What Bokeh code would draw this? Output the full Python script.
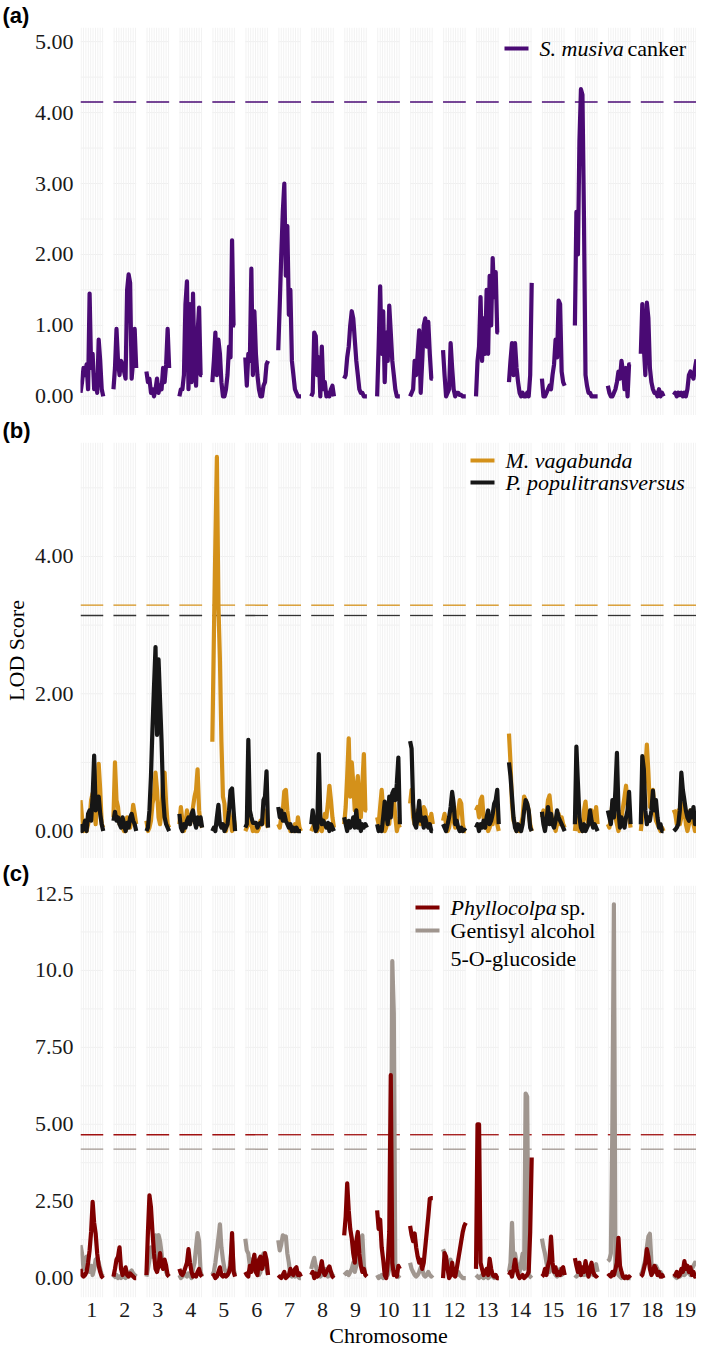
import numpy as np
from bokeh.plotting import figure
from bokeh.layouts import column
from bokeh.models import FixedTicker, Label, BoxAnnotation, PrintfTickFormatter
from bokeh.embed import file_html
from bokeh.resources import INLINE

chromosomes = list(range(1, 20))

# LOD profiles, one list per chromosome
musiva_canker = [
    [0.05, 0.2, 0.4, 0.3, 0.45, 0.1, 1.45, 0.4, 0.6, 0.1, 0.3, 0.05, 0.8, 0.5, 0.1, 0.0],
    [0.1, 0.4, 0.95, 0.5, 0.3, 0.5, 0.45, 0.35, 0.25, 1.5, 1.72, 1.6, 0.25, 0.5, 0.95, 0.4],
    [0.35, 0.2, 0.25, 0.05, 0.1, 0.0, 0.1, 0.25, 0.05, 0.15, 0.1, 0.4, 0.2, 0.45, 0.95, 0.4],
    [0.0, 0.1, 0.1, 0.3, 1.3, 1.62, 0.1, 1.3, 0.2, 1.45, 0.4, 0.15, 0.9, 1.25, 0.3, 0.3],
    [0.2, 0.5, 0.9, 0.3, 0.8, 0.6, 0.2, 0.0, 0.0, 0.1, 0.3, 0.7, 0.55, 2.2, 1.0, 1.0],
    [0.55, 0.15, 0.6, 0.5, 1.8, 0.3, 1.2, 0.6, 0.3, 0.1, 0.0, 0.0, 0.15, 0.2, 0.45, 0.5],
    [0.65, 1.3, 2.0, 2.6, 3.0, 1.7, 2.4, 1.15, 1.5, 0.5, 0.3, 0.1, 0.05, 0.0, 0.0, 0.0],
    [0.0, 0.05, 0.9, 0.85, 0.3, 0.55, 0.0, 0.7, 0.1, 0.2, 0.0, 0.05, 0.0, 0.1, 0.15, 0.0],
    [0.25, 0.3, 0.55, 0.7, 1.0, 1.2, 1.1, 0.8, 0.5, 0.3, 0.1, 0.05, 0.05, 0.0, 0.0, 0.0],
    [0.0, 0.7, 1.55, 0.6, 1.2, 0.2, 0.9, 0.5, 1.28, 0.9, 0.5, 0.3, 0.1, 0.0, 0.0, 0.0],
    [0.0, 0.05, 0.1, 0.5, 0.3, 0.6, 0.93, 0.05, 0.5, 1.0, 1.1, 0.7, 1.05, 0.6, 0.25, 0.25],
    [0.65, 0.3, 0.0, 0.05, 0.1, 0.75, 0.4, 0.1, 0.0, 0.05, 0.05, 0.02, 0.02, 0.0, 0.0, 0.0],
    [0.0, 0.5, 0.7, 1.4, 0.5, 1.1, 0.6, 1.5, 0.6, 1.7, 1.0, 1.95, 1.4, 1.75, 0.9, 0.9],
    [0.2, 0.5, 0.75, 0.3, 0.75, 0.4, 0.2, 0.05, 0.0, 0.05, 0.0, 0.0, 0.05, 0.0, 0.3, 1.6],
    [0.25, 0.0, 0.0, 0.05, 0.1, 0.15, 0.1, 0.3, 0.45, 0.8, 0.55, 1.35, 1.3, 0.35, 0.2, 0.15],
    [1.0, 2.6, 2.0, 3.6, 4.33, 4.25, 2.5, 0.3, 0.15, 0.05, 0.05, 0.0, 0.0, 0.0, 0.0, 0.0],
    [0.15, 0.05, 0.0, 0.0, 0.05, 0.1, 0.2, 0.35, 0.25, 0.5, 0.35, 0.1, 0.4, 0.0, 0.45, 0.45],
    [0.6, 1.3, 0.7, 0.3, 1.32, 1.1, 0.4, 0.2, 0.1, 0.05, 0.05, 0.0, 0.1, 0.0, 0.05, 0.0],
    [0.02, 0.05, 0.0, 0.05, 0.02, 0.05, 0.0, 0.05, 0.0, 0.1, 0.3, 0.35, 0.3, 0.25, 0.4, 0.52],
]

m_vagabunda = [
    [0.45, 0.2, 0.0, 0.05, 0.0, 0.1, 0.2, 0.45, 0.55, 0.3, 0.1, 0.5, 0.98, 0.6, 0.1, 0.05],
    [0.2, 1.0, 0.45, 0.35, 0.1, 0.15, 0.05, 0.0, 0.0, 0.2, 0.1, 0.05, 0.15, 0.38, 0.25, 0.1],
    [0.15, 0.0, 0.05, 0.15, 0.4, 0.5, 0.85, 0.6, 0.2, 0.1, 0.3, 0.8, 0.85, 0.4, 0.1, 0.05],
    [0.1, 0.35, 0.15, 0.0, 0.1, 0.3, 0.15, 0.1, 0.2, 0.35, 0.5, 0.6, 0.9, 0.3, 0.1, 0.05],
    [1.3, 2.8, 4.2, 5.45, 3.3, 2.5, 1.3, 0.5, 0.4, 0.0, 0.15, 0.3, 0.15, 0.0, 0.2, 0.05],
    [0.0, 0.05, 0.1, 0.2, 0.1, 0.0, 0.05, 0.0, 0.0, 0.05, 0.15, 0.1, 0.2, 0.3, 0.1, 0.05],
    [0.1, 0.05, 0.2, 0.3, 0.58, 0.6, 0.3, 0.1, 0.0, 0.05, 0.0, 0.1, 0.0, 0.2, 0.05, 0.0],
    [0.0, 0.05, 0.1, 0.05, 0.0, 0.1, 0.05, 0.0, 0.1, 0.25, 0.2, 0.4, 0.66, 0.45, 0.2, 0.05],
    [0.1, 0.35, 0.8, 1.35, 0.5, 1.0, 0.7, 0.3, 0.55, 0.8, 0.3, 0.2, 0.7, 1.12, 0.3, 0.3],
    [0.2, 0.1, 0.35, 0.6, 0.3, 0.0, 0.05, 0.3, 0.1, 0.4, 0.3, 0.5, 0.2, 0.0, 0.1, 0.05],
    [0.4, 0.6, 0.2, 0.1, 0.15, 0.3, 0.2, 0.1, 0.25, 0.35, 0.3, 0.15, 0.2, 0.1, 0.25, 0.1],
    [0.15, 0.25, 0.1, 0.0, 0.05, 0.2, 0.3, 0.15, 0.05, 0.1, 0.3, 0.45, 0.4, 0.1, 0.0, 0.0],
    [0.3, 0.35, 0.2, 0.45, 0.5, 0.2, 0.05, 0.1, 0.0, 0.05, 0.2, 0.1, 0.3, 0.35, 0.1, 0.0],
    [1.42, 1.0, 0.4, 0.15, 0.1, 0.0, 0.05, 0.0, 0.1, 0.2, 0.5, 0.45, 0.4, 0.3, 0.1, 0.0],
    [0.2, 0.3, 0.1, 0.25, 0.45, 0.52, 0.3, 0.1, 0.15, 0.0, 0.1, 0.25, 0.1, 0.2, 0.1, 0.05],
    [0.0, 0.2, 0.1, 0.0, 0.1, 0.0, 0.3, 0.43, 0.2, 0.1, 0.1, 0.3, 0.2, 0.1, 0.35, 0.1],
    [0.1, 0.05, 0.2, 0.4, 0.3, 0.2, 0.1, 0.0, 0.1, 0.2, 0.35, 0.5, 0.66, 0.4, 0.2, 0.05],
    [0.0, 0.2, 0.5, 0.9, 1.26, 0.85, 0.35, 0.5, 0.6, 0.3, 0.15, 0.1, 0.05, 0.0, 0.05, 0.0],
    [0.31, 0.25, 0.1, 0.3, 0.1, 0.2, 0.4, 0.35, 0.1, 0.0, 0.1, 0.3, 0.2, 0.1, 0.0, 0.05],
]

p_populitransversus = [
    [0.1, 0.0, 0.05, 0.15, 0.0, 0.25, 0.3, 0.15, 0.5, 1.1, 0.3, 0.45, 0.5, 0.25, 0.1, 0.0],
    [0.15, 0.28, 0.15, 0.2, 0.1, 0.05, 0.2, 0.1, 0.0, 0.12, 0.05, 0.2, 0.25, 0.15, 0.1, 0.0],
    [0.0, 0.05, 0.3, 0.8, 1.5, 2.1, 2.68, 1.4, 2.5, 1.9, 1.3, 0.5, 0.2, 0.1, 0.05, 0.0],
    [0.25, 0.05, 0.0, 0.1, 0.05, 0.15, 0.2, 0.1, 0.25, 0.3, 0.15, 0.05, 0.2, 0.1, 0.2, 0.05],
    [0.0, 0.05, 0.0, 0.2, 0.38, 0.1, 0.05, 0.1, 0.0, 0.05, 0.1, 0.3, 0.59, 0.62, 0.3, 0.0],
    [0.05, 0.1, 1.33, 0.3, 0.2, 0.12, 0.12, 0.12, 0.05, 0.1, 0.12, 0.1, 0.45, 0.5, 0.87, 0.05],
    [0.35, 0.2, 0.3, 0.15, 0.25, 0.15, 0.1, 0.05, 0.1, 0.0, 0.05, 0.0, 0.05, 0.0, 0.0, 0.0],
    [0.1, 0.3, 0.1, 0.0, 0.05, 1.12, 0.2, 0.1, 0.15, 0.1, 0.05, 0.12, 0.0, 0.1, 0.05, 0.0],
    [0.2, 0.1, 0.0, 0.15, 0.05, 0.1, 0.2, 0.05, 0.3, 0.05, 0.15, 0.0, 0.1, 0.05, 0.1, 0.05],
    [0.1, 0.0, 0.05, 0.0, 0.2, 0.43, 0.25, 0.1, 0.5, 0.2, 0.55, 0.6, 0.45, 0.69, 1.07, 0.1],
    [1.31, 1.2, 0.4, 0.1, 0.05, 0.2, 0.44, 0.15, 0.2, 0.05, 0.2, 0.1, 0.05, 0.1, 0.0, 0.0],
    [0.1, 0.05, 0.0, 0.1, 0.2, 0.35, 0.57, 0.4, 0.1, 0.15, 0.05, 0.0, 0.05, 0.0, 0.02, 0.0],
    [0.05, 0.1, 0.0, 0.1, 0.05, 0.15, 0.05, 0.2, 0.3, 0.1, 0.15, 0.25, 0.4, 0.45, 0.6, 0.1],
    [1.0, 0.8, 0.5, 0.2, 0.05, 0.0, 0.1, 0.05, 0.0, 0.1, 0.3, 0.45, 0.4, 0.3, 0.05, 0.0],
    [0.28, 0.1, 0.0, 0.15, 0.35, 0.1, 0.25, 0.1, 0.05, 0.15, 0.3, 0.2, 0.15, 0.1, 0.05, 0.0],
    [0.1, 1.23, 0.7, 0.2, 0.05, 0.0, 0.1, 0.0, 0.05, 0.1, 0.3, 0.15, 0.05, 0.1, 0.05, 0.0],
    [0.3, 0.2, 0.1, 0.45, 0.2, 0.6, 1.14, 0.3, 0.05, 0.2, 0.1, 0.05, 0.2, 0.3, 0.57, 0.1],
    [0.1, 1.09, 0.9, 0.3, 0.1, 0.2, 0.15, 0.3, 0.59, 0.3, 0.45, 0.2, 0.05, 0.1, 0.0, 0.0],
    [0.0, 0.02, 0.05, 0.1, 0.3, 0.85, 0.6, 0.45, 0.3, 0.2, 0.15, 0.3, 0.2, 0.35, 0.1, 0.15],
]

phyllocolpa = [
    [0.3, 0.1, 0.05, 0.1, 0.2, 0.5, 0.9, 1.5, 2.48, 1.8, 1.45, 0.8, 0.4, 0.2, 0.05, 0.0],
    [0.05, 0.3, 0.6, 0.7, 1.0, 0.3, 0.1, 0.2, 0.35, 0.1, 0.05, 0.15, 0.1, 0.05, 0.0, 0.0],
    [0.1, 1.5, 2.69, 2.3, 1.5, 0.8, 0.3, 0.2, 0.4, 0.81, 0.4, 0.3, 0.6, 0.4, 0.1, 0.05],
    [0.3, 0.15, 0.1, 0.2, 0.35, 0.5, 0.94, 0.5, 0.2, 0.05, 0.1, 0.05, 0.2, 0.3, 0.1, 0.05],
    [0.05, 0.1, 0.0, 0.05, 0.2, 0.35, 0.1, 0.05, 0.1, 0.05, 0.1, 0.2, 0.4, 1.46, 0.2, 0.05],
    [0.2, 0.1, 0.05, 0.4, 0.2, 0.5, 0.76, 0.2, 0.1, 0.6, 0.7, 0.3, 0.5, 0.81, 0.6, 0.1],
    [0.0, 0.05, 0.0, 0.1, 0.2, 0.0, 0.05, 0.1, 0.3, 0.15, 0.1, 0.3, 0.35, 0.1, 0.15, 0.05],
    [0.1, 0.2, 0.0, 0.15, 0.05, 0.1, 0.3, 0.55, 0.2, 0.1, 0.2, 0.3, 0.38, 0.2, 0.05, 0.0],
    [1.39, 2.0, 3.08, 2.2, 1.6, 1.3, 0.8, 0.5, 1.2, 1.5, 0.8, 0.4, 0.2, 0.3, 0.1, 0.05],
    [2.2, 1.6, 1.9, 1.0, 0.6, 0.1, 0.0, 0.5, 1.5, 6.6, 0.5, 0.1, 0.2, 0.05, 0.4, 0.3],
    [1.7, 1.4, 1.2, 1.45, 1.0, 0.7, 0.5, 0.6, 0.3, 0.5, 1.0, 1.5, 2.0, 2.58, 2.6, 2.6],
    [0.0, 0.81, 0.7, 0.3, 0.0, 0.1, 0.5, 0.1, 0.05, 0.3, 0.6, 0.9, 1.2, 1.5, 1.7, 1.8],
    [0.3, 5.0, 5.0, 0.5, 0.3, 0.1, 0.2, 0.3, 0.1, 0.63, 0.3, 0.1, 0.05, 0.1, 0.0, 0.0],
    [0.1, 0.2, 0.05, 0.3, 0.6, 0.3, 0.1, 0.0, 0.05, 0.1, 0.0, 0.05, 0.1, 0.2, 1.5, 3.92],
    [0.05, 0.1, 0.3, 0.1, 0.4, 0.6, 1.35, 0.5, 0.2, 0.35, 0.1, 0.2, 0.1, 0.3, 0.35, 0.1],
    [0.65, 0.4, 0.2, 0.5, 0.1, 0.35, 0.2, 0.55, 0.3, 0.05, 0.3, 0.5, 0.2, 0.1, 0.05, 0.1],
    [0.05, 0.1, 0.05, 0.2, 0.1, 0.3, 0.5, 1.31, 0.4, 0.2, 0.05, 0.0, 0.05, 0.0, 0.05, 0.0],
    [0.05, 0.1, 0.3, 0.5, 0.94, 0.7, 0.3, 0.1, 0.2, 0.4, 0.3, 0.1, 0.2, 0.05, 0.1, 0.0],
    [0.05, 0.1, 0.2, 0.05, 0.1, 0.3, 0.2, 0.55, 0.3, 0.4, 0.2, 0.35, 0.1, 0.2, 0.05, 0.1],
]

gentisyl_glucoside = [
    [1.07, 0.8, 0.3, 0.5, 0.7, 0.5, 0.2, 0.4, 0.1, 0.3, 0.6, 0.65, 0.5, 0.3, 0.1, 0.05],
    [0.0, 0.05, 0.1, 0.0, 0.05, 0.0, 0.1, 0.05, 0.0, 0.05, 0.1, 0.2, 0.25, 0.15, 0.1, 0.05],
    [0.05, 0.3, 0.6, 1.0, 0.7, 1.0, 1.39, 0.6, 1.4, 1.2, 0.8, 0.3, 0.5, 0.2, 0.1, 0.05],
    [0.1, 0.0, 0.05, 0.2, 0.1, 0.05, 0.15, 0.1, 0.0, 0.3, 0.5, 1.0, 1.46, 1.2, 0.2, 0.05],
    [0.1, 0.2, 0.5, 0.9, 1.3, 1.75, 1.0, 0.6, 0.3, 0.2, 0.1, 0.2, 0.6, 1.2, 0.3, 0.1],
    [1.28, 0.9, 0.8, 0.4, 0.6, 0.5, 0.3, 0.2, 0.3, 0.1, 0.2, 0.6, 0.8, 0.4, 0.3, 0.1],
    [1.23, 0.9, 1.1, 1.39, 1.3, 1.35, 0.8, 0.5, 0.1, 0.05, 0.1, 0.05, 0.1, 0.05, 0.0, 0.0],
    [0.3, 0.5, 0.66, 0.4, 0.2, 0.1, 0.05, 0.1, 0.2, 0.3, 0.1, 0.05, 0.1, 0.2, 0.1, 0.05],
    [0.1, 0.15, 0.2, 0.1, 0.2, 0.3, 0.5, 0.2, 0.4, 0.6, 0.9, 1.2, 1.39, 0.4, 0.1, 0.05],
    [0.1, 0.0, 0.05, 0.1, 0.0, 0.1, 0.2, 0.1, 0.3, 0.5, 10.3, 8.6, 0.3, 0.1, 0.05, 0.0],
    [0.5, 0.3, 0.2, 0.1, 0.05, 0.1, 0.2, 0.35, 0.3, 0.1, 0.05, 0.1, 0.2, 0.1, 0.05, 0.1],
    [0.94, 0.8, 0.5, 0.3, 0.5, 0.6, 0.2, 0.3, 0.15, 0.1, 0.2, 0.1, 0.05, 0.0, 0.0, 0.0],
    [0.1, 0.05, 0.0, 0.05, 0.1, 0.0, 0.05, 0.1, 0.0, 0.05, 0.1, 0.05, 0.0, 0.05, 0.0, 0.0],
    [0.2, 0.5, 1.8, 0.5, 0.8, 0.5, 0.3, 0.2, 0.5, 0.8, 0.3, 6.0, 5.9, 0.1, 0.05, 0.0],
    [1.28, 1.0, 0.8, 0.5, 0.3, 0.2, 0.4, 0.3, 0.2, 0.1, 0.05, 0.2, 0.3, 0.1, 0.2, 0.1],
    [0.1, 0.05, 0.1, 0.2, 0.1, 0.15, 0.1, 0.2, 0.1, 0.3, 0.2, 0.15, 0.1, 0.3, 0.45, 0.2],
    [0.55, 0.6, 0.8, 5.0, 12.15, 0.4, 0.2, 0.1, 0.05, 0.0, 0.05, 0.0, 0.0, 0.0, 0.0, 0.0],
    [0.1, 0.2, 0.4, 0.6, 1.0, 1.35, 1.44, 0.5, 0.3, 0.2, 0.4, 0.3, 0.1, 0.2, 0.1, 0.05],
    [0.0, 0.05, 0.0, 0.1, 0.05, 0.1, 0.2, 0.1, 0.15, 0.3, 0.2, 0.1, 0.3, 0.4, 0.5, 0.45],
]

# significance thresholds
thr_musiva = 4.15
thr_vagabunda = 3.29
thr_populi = 3.14
thr_phyllocolpa = 4.66
thr_gentisyl = 4.19

ticks_a = [0, 1, 2, 3, 4, 5]
ticks_b = [0, 2, 4]
ticks_c = [0, 2.5, 5, 7.5, 10, 12.5]
tick_labels_c = ["0.00", "2.50", "5.00", "7.50", "10.0", "12.5"]

PURPLE = "#4a0a74"
ORANGE = "#d4911a"
BLACK = "#161616"
DARKRED = "#800000"
GREY = "#a0968f"
SERIF = "Liberation Serif"
HALF = 0.345  # half width of one chromosome facet
FRAME_W = 616
LEFT = 80


def lines_for(values):
    xs = [np.linspace(c - HALF, c + HALF, len(v)) for c, v in zip(chromosomes, values)]
    return xs, [list(v) for v in values]


def make_panel(y_range, ticks, frame_h, letter, xaxis=False):
    p = figure(frame_width=FRAME_W, frame_height=frame_h,
               x_range=(1 - HALF, 19 + HALF), y_range=y_range,
               output_backend="svg", toolbar_location=None,
               x_axis_location="below" if xaxis else None,
               min_border_left=LEFT, min_border_right=0,
               min_border_top=0, min_border_bottom=0)
    p.outline_line_color = None
    p.background_fill_color = "white"
    p.xgrid.visible = False
    p.ygrid.visible = False

    # panel letter, pushed out over the y axis area
    p.title.text = letter
    p.title.align = "left"
    p.title.offset = 10 - LEFT - 8
    p.title.standoff = 0
    p.title.text_font = "Liberation Sans"
    p.title.text_font_style = "bold"
    p.title.text_font_size = "22px"
    p.title.text_color = "black"

    # facet grid lines, only inside each chromosome panel
    step = ticks[1] - ticks[0]
    hx0, hx1, hy = [], [], []
    for t in np.arange(0, y_range[1], step / 2):
        for c in chromosomes:
            hx0.append(c - HALF)
            hx1.append(c + HALF)
            hy.append(t)
    p.segment(x0=hx0, x1=hx1, y0=hy, y1=hy, line_color="#efefef", line_width=1)
    vx = [x for c in chromosomes for x in np.linspace(c - HALF + 0.02, c + HALF - 0.02, 10)]
    p.segment(x0=vx, x1=vx, y0=y_range[0], y1=y_range[1], line_color="#f2f2f2", line_width=1)

    p.yaxis.ticker = FixedTicker(ticks=ticks)
    p.yaxis.axis_line_color = None
    p.yaxis.major_tick_line_color = None
    p.yaxis.major_tick_out = 0
    p.yaxis.minor_tick_line_color = None
    p.yaxis.minor_tick_out = 0
    p.yaxis.major_label_standoff = 7
    p.yaxis.major_label_text_font = SERIF
    p.yaxis.major_label_text_font_size = "22px"
    p.yaxis.major_label_text_color = "#1a1a1a"
    return p


def thresholds(p, level, color):
    x0 = [c - HALF for c in chromosomes]
    x1 = [c + HALF for c in chromosomes]
    p.segment(x0=x0, x1=x1, y0=level, y1=level, line_color=color, line_width=1.3)


def profile(p, values, color):
    xs, ys = lines_for(values)
    p.multi_line(xs=xs, ys=ys, line_color=color, line_width=4.2, line_join="round")


def key(p, frame_h, x, dy, color):
    p.add_layout(BoxAnnotation(left=x, right=x + 24, top=frame_h - dy + 2, bottom=frame_h - dy - 2,
                               left_units="screen", right_units="screen",
                               top_units="screen", bottom_units="screen",
                               fill_color=color, fill_alpha=1, line_color=None))


def text(p, frame_h, x, dy, s, italic=False):
    p.add_layout(Label(x=x, y=frame_h - dy, x_units="screen", y_units="screen", text=s,
                       text_font=SERIF, text_font_style="italic" if italic else "normal",
                       text_font_size="22px", text_baseline="middle", text_color="black"))


# (a) S. musiva canker
ha = 388
pa = make_panel((-0.27, 5.2), ticks_a, ha, "(a)")
pa.yaxis.formatter = PrintfTickFormatter(format="%.2f")
thresholds(pa, thr_musiva, PURPLE)
profile(pa, musiva_canker, PURPLE)
key(pa, ha, 424, 21, PURPLE)
text(pa, ha, 459, 21, "S. musiva", italic=True)
text(pa, ha, 547, 21, "canker")

# (b) leaf spot pathogens
hb = 416
pb = make_panel((-0.40, 5.66), ticks_b, hb, "(b)")
pb.yaxis.formatter = PrintfTickFormatter(format="%.2f")
pb.yaxis.axis_label = "LOD Score"
pb.yaxis.axis_label_text_font = SERIF
pb.yaxis.axis_label_text_font_size = "22px"
pb.yaxis.axis_label_text_font_style = "normal"
pb.yaxis.axis_label_text_color = "black"
pb.yaxis.axis_label_standoff = 3
thresholds(pb, thr_vagabunda, ORANGE)
thresholds(pb, thr_populi, "#333333")
profile(pb, m_vagabunda, ORANGE)
profile(pb, p_populitransversus, BLACK)
key(pb, hb, 390, 18, ORANGE)
key(pb, hb, 390, 40, BLACK)
text(pb, hb, 425, 18, "M. vagabunda", italic=True)
text(pb, hb, 425, 40, "P. populitransversus", italic=True)

# (c) Phyllocolpa and gentisyl alcohol 5-O-glucoside
hc = 412
pc = make_panel((-0.63, 12.76), ticks_c, hc, "(c)", xaxis=True)
pc.yaxis.major_label_overrides = dict(zip(ticks_c, tick_labels_c))
thresholds(pc, thr_phyllocolpa, "#a01010")
thresholds(pc, thr_gentisyl, GREY)
profile(pc, gentisyl_glucoside, GREY)
profile(pc, phyllocolpa, DARKRED)
key(pc, hc, 335, 22, DARKRED)
key(pc, hc, 335, 45, GREY)
text(pc, hc, 370, 22, "Phyllocolpa", italic=True)
text(pc, hc, 480, 22, "sp.")
text(pc, hc, 370, 45, "Gentisyl alcohol")
text(pc, hc, 370, 73, "5-O-glucoside")

pc.xaxis.ticker = FixedTicker(ticks=chromosomes)
pc.xaxis.axis_line_color = None
pc.xaxis.major_tick_line_color = None
pc.xaxis.major_tick_out = 0
pc.xaxis.minor_tick_line_color = None
pc.xaxis.minor_tick_out = 0
pc.xaxis.major_label_standoff = 5
pc.xaxis.major_label_text_font = SERIF
pc.xaxis.major_label_text_font_size = "22px"
pc.xaxis.major_label_text_color = "#1a1a1a"
pc.xaxis.axis_label = "Chromosome"
pc.xaxis.axis_label_text_font = SERIF
pc.xaxis.axis_label_text_font_size = "22px"
pc.xaxis.axis_label_text_font_style = "normal"
pc.xaxis.axis_label_text_color = "black"
pc.xaxis.axis_label_standoff = 3

layout = column(pa, pb, pc, spacing=0)
open("out.html", "w").write(file_html(layout, INLINE))
